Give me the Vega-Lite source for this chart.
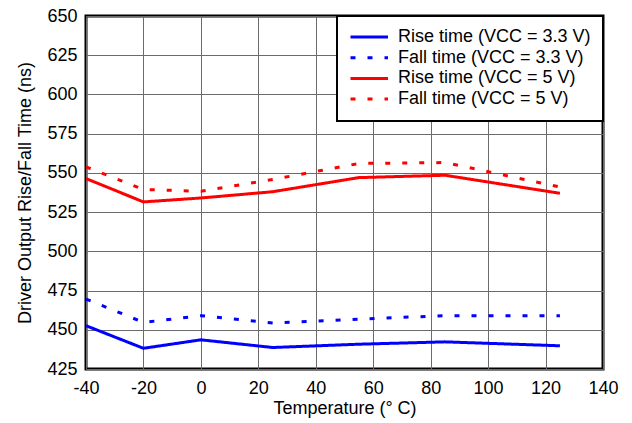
{
  "$schema": "https://vega.github.io/schema/vega-lite/v6.json",
  "width": 517,
  "height": 353,
  "autosize": {"type": "none"},
  "padding": {"left": 86, "top": 16, "right": 29, "bottom": 54},
  "config": {
    "font": "Liberation Sans",
    "view": {"stroke": "black", "strokeWidth": 3},
    "axis": {
      "labelFont": "Liberation Sans",
      "titleFont": "Liberation Sans",
      "labelFontSize": 18,
      "titleFontSize": 18,
      "labelColor": "black",
      "titleColor": "black",
      "titleFontWeight": "normal",
      "gridColor": "#6b6b6b",
      "gridWidth": 1,
      "gridOpacity": 1,
      "domain": false,
      "ticks": false,
      "labelFlush": false,
      "labelOverlap": false
    }
  },
  "data": {
    "values": [
      {"t": -40, "v": 452.6, "s": "Rise time (VCC = 3.3 V)"},
      {"t": -20, "v": 438.2, "s": "Rise time (VCC = 3.3 V)"},
      {"t": 0, "v": 443.6, "s": "Rise time (VCC = 3.3 V)"},
      {"t": 25, "v": 438.7, "s": "Rise time (VCC = 3.3 V)"},
      {"t": 55, "v": 440.8, "s": "Rise time (VCC = 3.3 V)"},
      {"t": 85, "v": 442.3, "s": "Rise time (VCC = 3.3 V)"},
      {"t": 125, "v": 439.8, "s": "Rise time (VCC = 3.3 V)"},
      {"t": -40, "v": 469.6, "s": "Fall time (VCC = 3.3 V)"},
      {"t": -20, "v": 454.7, "s": "Fall time (VCC = 3.3 V)"},
      {"t": 0, "v": 459.0, "s": "Fall time (VCC = 3.3 V)"},
      {"t": 25, "v": 454.3, "s": "Fall time (VCC = 3.3 V)"},
      {"t": 55, "v": 456.8, "s": "Fall time (VCC = 3.3 V)"},
      {"t": 85, "v": 459.0, "s": "Fall time (VCC = 3.3 V)"},
      {"t": 125, "v": 459.0, "s": "Fall time (VCC = 3.3 V)"},
      {"t": -40, "v": 546.4, "s": "Rise time (VCC = 5 V)"},
      {"t": -20, "v": 531.5, "s": "Rise time (VCC = 5 V)"},
      {"t": 0, "v": 534.0, "s": "Rise time (VCC = 5 V)"},
      {"t": 25, "v": 538.0, "s": "Rise time (VCC = 5 V)"},
      {"t": 55, "v": 547.0, "s": "Rise time (VCC = 5 V)"},
      {"t": 85, "v": 548.5, "s": "Rise time (VCC = 5 V)"},
      {"t": 125, "v": 537.0, "s": "Rise time (VCC = 5 V)"},
      {"t": -40, "v": 553.8, "s": "Fall time (VCC = 5 V)"},
      {"t": -20, "v": 539.4, "s": "Fall time (VCC = 5 V)"},
      {"t": 0, "v": 538.3, "s": "Fall time (VCC = 5 V)"},
      {"t": 25, "v": 545.8, "s": "Fall time (VCC = 5 V)"},
      {"t": 55, "v": 556.0, "s": "Fall time (VCC = 5 V)"},
      {"t": 85, "v": 556.6, "s": "Fall time (VCC = 5 V)"},
      {"t": 125, "v": 541.0, "s": "Fall time (VCC = 5 V)"}
    ]
  },
  "mark": {"type": "line", "strokeWidth": 3, "clip": true},
  "encoding": {
    "x": {
      "field": "t", "type": "quantitative",
      "scale": {"domain": [-40, 140], "nice": false, "zero": false},
      "axis": {"values": [-40, -20, 0, 20, 40, 60, 80, 100, 120, 140], "labelExpr": "'' + datum.value", "title": "Temperature (° C)", "labelPadding": 10, "titlePadding": 2}
    },
    "y": {
      "field": "v", "type": "quantitative",
      "scale": {"domain": [425, 650], "nice": false, "zero": false},
      "axis": {"values": [425, 450, 475, 500, 525, 550, 575, 600, 625, 650], "title": "Driver Output Rise/Fall Time (ns)", "labelPadding": 9, "titlePadding": 12}
    },
    "color": {
      "field": "s", "type": "nominal",
      "scale": {
        "domain": ["Rise time (VCC = 3.3 V)", "Fall time (VCC = 3.3 V)", "Rise time (VCC = 5 V)", "Fall time (VCC = 5 V)"],
        "range": ["#0000ff", "#0000ff", "#ff0000", "#ff0000"]
      },
      "legend": {
        "title": null,
        "orient": "top-right",
        "offset": 0,
        "padding": 12,
        "fillColor": "white",
        "strokeColor": "black",
        "symbolType": "M-1,0H4",
        "symbolSize": 225,
        "symbolStrokeWidth": 3,
        "labelFontSize": 18,
        "labelFont": "Liberation Sans",
        "labelColor": "black",
        "labelOffset": 31,
        "rowPadding": 2.7,
        "labelLimit": 300,
        "encode": {"legend": {"update": {"strokeWidth": {"value": 2}}}}
      }
    },
    "strokeDash": {
      "field": "s", "type": "nominal",
      "scale": {
        "domain": ["Rise time (VCC = 3.3 V)", "Fall time (VCC = 3.3 V)", "Rise time (VCC = 5 V)", "Fall time (VCC = 5 V)"],
        "range": [[1, 0], [5, 12], [1, 0], [5, 12]]
      },
      "legend": null
    }
  }
}
